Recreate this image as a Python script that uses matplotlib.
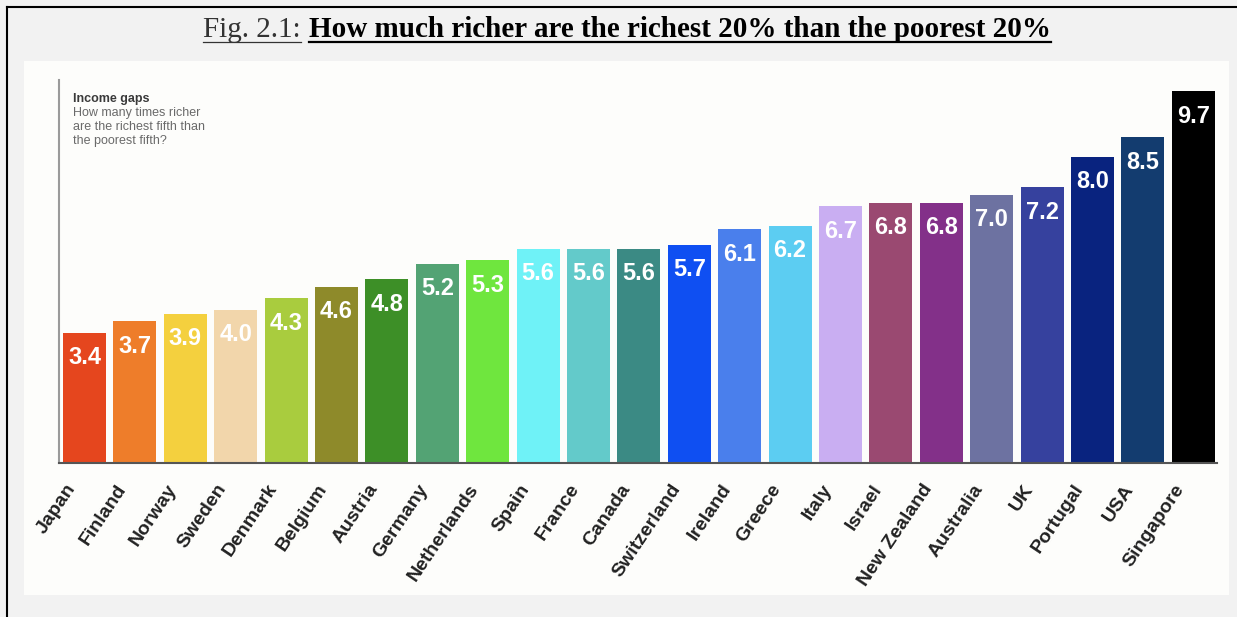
import matplotlib
matplotlib.use("Agg")
import matplotlib.pyplot as plt
from matplotlib.patches import Rectangle
from matplotlib.lines import Line2D

countries = ["Japan", "Finland", "Norway", "Sweden", "Denmark", "Belgium", "Austria",
             "Germany", "Netherlands", "Spain", "France", "Canada", "Switzerland",
             "Ireland", "Greece", "Italy", "Israel", "New Zealand", "Australia", "UK",
             "Portugal", "USA", "Singapore"]
gaps = [3.4, 3.7, 3.9, 4.0, 4.3, 4.6, 4.8, 5.2, 5.3, 5.6, 5.6, 5.6, 5.7,
        6.1, 6.2, 6.7, 6.8, 6.8, 7.0, 7.2, 8.0, 8.5, 9.7]
bar_colors = ["#e5461e", "#ee7d2a", "#f4d03e", "#f2d6ab", "#a9cc3e", "#8e8a2a", "#3d8f27",
              "#53a374", "#6fe63e", "#6ff2f7", "#63caca", "#3b8a84", "#0f4ff2",
              "#4a7fec", "#5ccdf2", "#c9aef2", "#9a4971", "#833089", "#6d72a1", "#36419e",
              "#09237f", "#133c6f", "#000000"]

title_prefix = "Fig. 2.1:"
title_main = "How much richer are the richest 20% than the poorest 20%"
note_head = "Income gaps"
note_body = "How many times richer\nare the richest fifth than\nthe poorest fifth?"

W, H = 1237, 617
fig = plt.figure(figsize=(W / 100, H / 100), dpi=100, facecolor="#f2f2f2")


def fx(x):
    return x / W


def fy(y):
    return 1 - y / H


# white panel behind the chart
fig.patches.append(Rectangle((fx(24), fy(595)), fx(1229) - fx(24), fy(61) - fy(595),
                             transform=fig.transFigure, facecolor="#fdfdfb",
                             edgecolor="none", zorder=-5))
# frame lines (top and left)
fig.add_artist(Line2D([fx(7), fx(7)], [0, fy(7)], transform=fig.transFigure,
                      color="black", lw=1.5))
fig.add_artist(Line2D([fx(7), 1], [fy(7), fy(7)], transform=fig.transFigure,
                      color="black", lw=1.5))

ax = fig.add_axes([fx(59), fy(463), fx(1217) - fx(59), fy(80) - fy(463)])
ax.set_zorder(3)
ax.set_facecolor("none")
pos = list(range(len(countries)))
bars = ax.bar(pos, gaps, width=0.85, color=bar_colors, zorder=2)
ax.set_xlim(-0.506, 22.47)
ax.set_ylim(0, 10)

for side in ("top", "right"):
    ax.spines[side].set_visible(False)
ax.spines["left"].set_color("#9a9a9a")
ax.spines["left"].set_linewidth(1.5)
ax.spines["bottom"].set_color("#555555")
ax.spines["bottom"].set_linewidth(1.5)
ax.set_yticks([])
ax.set_xticks([])

# slanted country names under each bar
for i, name in zip(pos, countries):
    ax.annotate(name, (i, 0), xytext=(-14, -13), textcoords="offset points",
                rotation=56, ha="right", va="top", rotation_mode="anchor",
                fontsize=14, fontweight="bold", color="#222222",
                family="Liberation Sans", annotation_clip=False)

# value printed near the top of each bar
for b, v in zip(bars, gaps):
    ax.annotate(f"{v:.1f}", (b.get_x() + b.get_width() / 2, v), xytext=(0, -18),
                textcoords="offset points", ha="center", va="center", color="white",
                fontsize=17, fontweight="bold", family="Liberation Sans", zorder=3)

# note in the top-left corner of the chart
fig.text(fx(73), fy(93), note_head, fontsize=9, fontweight="bold", color="#3a3a3a",
         family="Liberation Sans", va="top", zorder=4)
fig.text(fx(73), fy(107), note_body, fontsize=9, color="#6a6a6a",
         family="Liberation Sans", va="top", linespacing=1.2, zorder=4)

# title with underlines
renderer = fig.canvas.get_renderer()
t1 = fig.text(0, fy(37), title_prefix, fontsize=21, family="Liberation Serif",
              color="#333333", va="baseline")
t2 = fig.text(0, fy(37), title_main, fontsize=21, family="Liberation Serif",
              fontweight="bold", color="black", va="baseline")
w1 = t1.get_window_extent(renderer).width
w2 = t2.get_window_extent(renderer).width
gap = 8
start = 627 - (w1 + gap + w2) / 2
t1.set_x(fx(start))
t2.set_x(fx(start + w1 + gap))
fig.add_artist(Line2D([fx(start), fx(start + w1)], [fy(41.5), fy(41.5)],
                      transform=fig.transFigure, color="#333333", lw=0.9))
fig.add_artist(Line2D([fx(start + w1 + gap), fx(start + w1 + gap + w2)],
                      [fy(42), fy(42)], transform=fig.transFigure,
                      color="black", lw=1.6))

fig.savefig("out.png", dpi=100, facecolor=fig.get_facecolor())
